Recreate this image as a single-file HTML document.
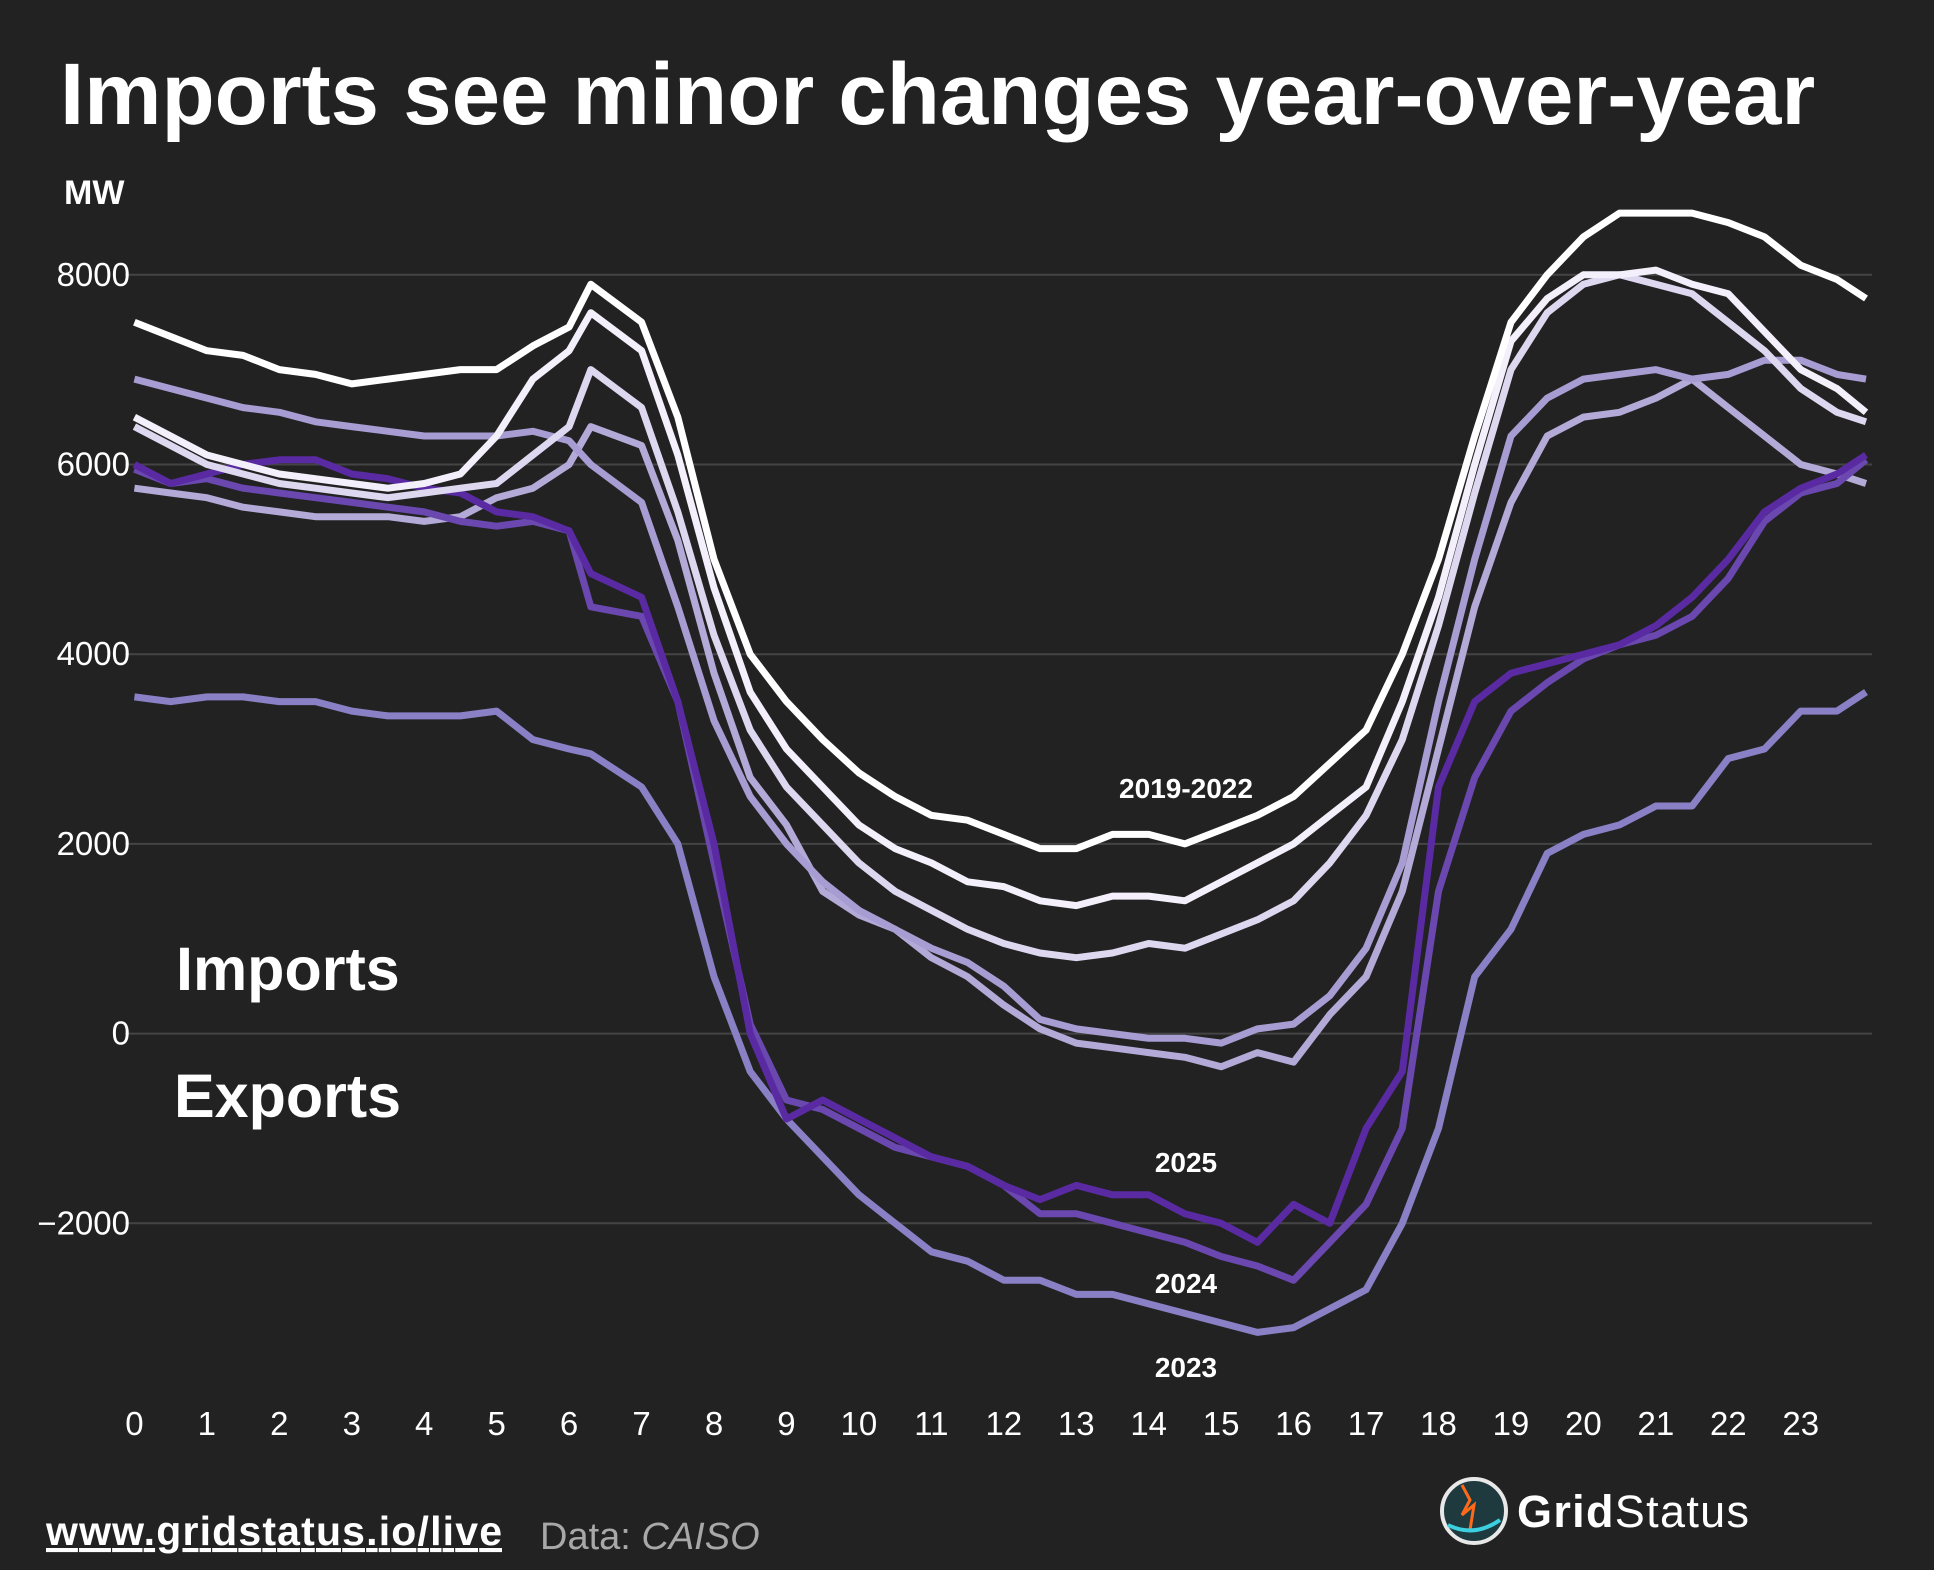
<!DOCTYPE html>
<html><head><meta charset="utf-8">
<style>
html,body{margin:0;padding:0;background:#222222;}
svg{display:block;font-family:"Liberation Sans","DejaVu Sans",sans-serif;}
</style></head>
<body>
<svg id="chart" width="1934" height="1570" viewBox="0 0 1934 1570">
<rect width="1934" height="1570" fill="#222222"/>
<text x="60" y="124" font-size="87" font-weight="bold" fill="#ffffff">Imports see minor changes year-over-year</text>
<text x="64" y="204" font-size="34" font-weight="bold" fill="#ffffff">MW</text>
<g id="grid"></g>
<g id="series"></g>
<text x="176" y="990" font-size="61" font-weight="bold" fill="#ffffff">Imports</text>
<text x="174" y="1117" font-size="61" font-weight="bold" fill="#ffffff">Exports</text>
<text x="1186" y="798" font-size="28" font-weight="bold" fill="#ffffff" text-anchor="middle">2019-2022</text>
<text x="1186" y="1172" font-size="28" font-weight="bold" fill="#ffffff" text-anchor="middle">2025</text>
<text x="1186" y="1293" font-size="28" font-weight="bold" fill="#ffffff" text-anchor="middle">2024</text>
<text x="1186" y="1377" font-size="28" font-weight="bold" fill="#ffffff" text-anchor="middle">2023</text>
<a><text x="46" y="1545" font-size="41" font-weight="bold" fill="#ffffff" text-decoration="underline" textLength="456">www.gridstatus.io/live</text></a>
<text x="540" y="1549" font-size="38" fill="#a8a8a8">Data: <tspan font-style="italic">CAISO</tspan></text>
<g>
<circle cx="1474" cy="1511" r="32" fill="#1f3a3e" stroke="#e8e8e8" stroke-width="4"/>
<path d="M1462 1485 L1470 1500 L1462 1515 L1474 1505 L1470 1530" stroke="#ff6a1a" stroke-width="3" fill="none"/>
<path d="M1448 1525 Q1474 1538 1500 1520" stroke="#3ccfe0" stroke-width="4" fill="none"/>
<text x="1517" y="1527" font-size="45" font-weight="bold" fill="#ffffff" textLength="232">Grid<tspan font-weight="normal">Status</tspan></text>
</g>
</svg>
<script>
const hours=[0,0.5,1,1.5,2,2.5,3,3.5,4,4.5,5,5.5,6,6.3,7,7.5,8,8.5,9,9.5,10,10.5,11,11.5,12,12.5,13,13.5,14,14.5,15,15.5,16,16.5,17,17.5,18,18.5,19,19.5,20,20.5,21,21.5,22,22.5,23,23.5,23.9];
const yTicks=[-2000,0,2000,4000,6000,8000];
const yTickLabels=["\u22122000","0","2000","4000","6000","8000"];
const xTicks=[0,1,2,3,4,5,6,7,8,9,10,11,12,13,14,15,16,17,18,19,20,21,22,23];
const s2019=[7500,7350,7200,7150,7000,6950,6850,6900,6950,7000,7000,7250,7450,7900,7500,6500,5000,4000,3500,3100,2750,2500,2300,2250,2100,1950,1950,2100,2100,2000,2150,2300,2500,2850,3200,4000,5000,6300,7500,8000,8400,8650,8650,8650,8550,8400,8100,7950,7750];
const s2020=[6500,6300,6100,6000,5900,5850,5800,5750,5800,5900,6300,6900,7200,7600,7200,6100,4700,3600,3000,2600,2200,1950,1800,1600,1550,1400,1350,1450,1450,1400,1600,1800,2000,2300,2600,3500,4600,6000,7300,7750,8000,8000,8050,7900,7800,7400,7000,6800,6550];
const s2021=[6400,6200,6000,5900,5800,5750,5700,5650,5700,5750,5800,6100,6400,7000,6600,5500,4200,3200,2600,2200,1800,1500,1300,1100,950,850,800,850,950,900,1050,1200,1400,1800,2300,3100,4300,5700,7000,7600,7900,8000,7900,7800,7500,7200,6800,6550,6450];
const s2022a=[6900,6800,6700,6600,6550,6450,6400,6350,6300,6300,6300,6350,6250,6000,5600,4500,3300,2500,2000,1600,1300,1100,900,750,500,150,50,0,-50,-50,-100,50,100,400,900,1800,3500,5000,6300,6700,6900,6950,7000,6900,6950,7100,7100,6950,6900];
const s2022b=[5750,5700,5650,5550,5500,5450,5450,5450,5400,5450,5650,5750,6000,6400,6200,5200,3800,2700,2200,1500,1250,1100,800,600,300,50,-100,-150,-200,-250,-350,-200,-300,200,600,1500,3000,4500,5600,6300,6500,6550,6700,6900,6600,6300,6000,5900,5800];
const s2023=[3550,3500,3550,3550,3500,3500,3400,3350,3350,3350,3400,3100,3000,2950,2600,2000,600,-400,-900,-1300,-1700,-2000,-2300,-2400,-2600,-2600,-2750,-2750,-2850,-2950,-3050,-3150,-3100,-2900,-2700,-2000,-1000,600,1100,1900,2100,2200,2400,2400,2900,3000,3400,3400,3600];
const s2024=[5950,5800,5850,5750,5700,5650,5600,5550,5500,5400,5350,5400,5300,4500,4400,3500,1800,100,-700,-800,-1000,-1200,-1300,-1400,-1600,-1900,-1900,-2000,-2100,-2200,-2350,-2450,-2600,-2200,-1800,-1000,1500,2700,3400,3700,3950,4100,4200,4400,4800,5400,5700,5800,6050];
const s2025=[6000,5800,5900,6000,6050,6050,5900,5850,5750,5700,5500,5450,5300,4850,4600,3500,2000,0,-900,-700,-900,-1100,-1300,-1400,-1600,-1750,-1600,-1700,-1700,-1900,-2000,-2200,-1800,-2000,-1000,-400,2600,3500,3800,3900,4000,4100,4300,4600,5000,5500,5750,5900,6100];
const NS="http://www.w3.org/2000/svg";
const xs=h=>134.4+h*72.45;
const ys=v=>1033.6-v*0.09485;
const grid=document.getElementById('grid');
yTicks.forEach((t,i)=>{
  const l=document.createElementNS(NS,'line');
  l.setAttribute('x1',125);l.setAttribute('x2',1872);
  l.setAttribute('y1',ys(t));l.setAttribute('y2',ys(t));
  l.setAttribute('stroke','#444444');l.setAttribute('stroke-width',2);
  
  
  grid.appendChild(l);
  const tx=document.createElementNS(NS,'text');
  tx.setAttribute('x',130);tx.setAttribute('y',ys(t)+11);
  tx.setAttribute('text-anchor','end');tx.setAttribute('font-size',33);tx.setAttribute('fill','#ffffff');
  tx.textContent=yTickLabels[i];
  
  
  grid.appendChild(tx);
});
xTicks.forEach(t=>{
  const tx=document.createElementNS(NS,'text');
  tx.setAttribute('x',xs(t));tx.setAttribute('y',1435);
  tx.setAttribute('text-anchor','middle');tx.setAttribute('font-size',33);tx.setAttribute('fill','#ffffff');
  tx.textContent=String(t);
  
  
  grid.appendChild(tx);
});
const seriesList=[[s2023,'#8a80c6','line-2023'],[s2022b,'#b3aad8','line-2022'],[s2022a,'#a79dd2','line-2022b'],[s2024,'#6a48b0','line-2024'],[s2025,'#5a2aa2','line-2025'],[s2021,'#ddd8f0','line-2021'],[s2020,'#f3f0fb','line-2020'],[s2019,'#ffffff','line-2019']];
const sg=document.getElementById('series');
seriesList.forEach(([vals,col,name])=>{
  const p=document.createElementNS(NS,'path');
  p.setAttribute('d',vals.map((v,i)=>(i?'L':'M')+xs(hours[i]).toFixed(1)+' '+ys(v).toFixed(1)).join(' '));
  p.setAttribute('fill','none');p.setAttribute('stroke',col);p.setAttribute('stroke-width',7);
  p.setAttribute('stroke-linejoin','round');
  
  
  sg.appendChild(p);
});
</script>
</body></html>
